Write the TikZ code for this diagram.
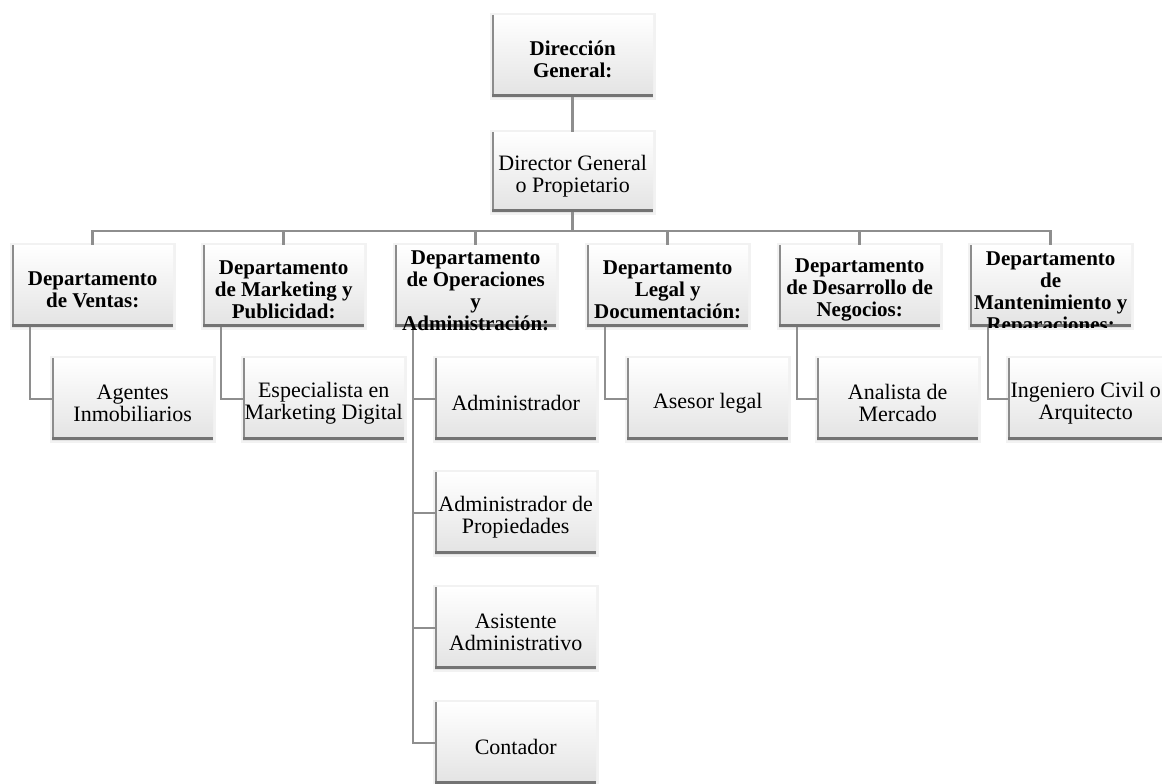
\documentclass[tikz,border=0pt]{standalone}
\usepackage{fontspec}
\setmainfont{Liberation Serif}
\usetikzlibrary{calc}
\definecolor{lin}{HTML}{8E8E8E}
\tikzset{
  box/.style={rectangle, anchor=north west, minimum width=161pt, minimum height=82pt,
    inner sep=0pt, top color=white, bottom color=black!11,
    preaction={draw=black!5, line width=5pt}},
  txt/.style={align=center, inner sep=0pt, font=\fontsize{22}{22}\selectfont},
  btxt/.style={align=center, inner sep=0pt, font=\fontsize{21}{22}\selectfont\bfseries},
  conn/.style={draw=lin, line width=2.5pt},
  edgeL/.style={draw=black!45, line width=2pt},
  edgeB/.style={draw=black!55, line width=3pt},
}
\newcommand{\boxedge}[1]{%
  \draw[edgeL] ($(#1.north west)+(1,0)$) -- ($(#1.south west)+(1,0)$);
  \draw[edgeB] ($(#1.south west)+(0,-1.5)$) -- ($(#1.south east)+(0,-1.5)$);}
\begin{document}
\begin{tikzpicture}[x=1pt,y=-1pt]
\useasboundingbox (0,0) rectangle (1162,784);
\fill[white] (0,0) rectangle (1162,784);
\clip (0,0) rectangle (1162,784);
\coordinate (bus) at (0,231);
\node[box] (dg) at (492,15) {};
\node[box, minimum height=80pt] (dir) at (492,132) {};
\node[box] (d1) at (12,245) {};
\node[box] (d2) at (203,245) {};
\node[box] (d3) at (395,245) {};
\node[box] (d4) at (587,245) {};
\node[box] (d5) at (779,245) {};
\node[box] (d6) at (970,245) {};
\node[box] (c1) at (52,358) {};
\node[box] (c2) at (243,358) {};
\node[box] (c3a) at (435,358) {};
\node[box] (c3b) at (435,472) {};
\node[box] (c3c) at (435,587) {};
\node[box] (c3d) at (435,702) {};
\node[box] (c4) at (627,358) {};
\node[box] (c5) at (817,358) {};
\node[box] (c6) at (1008,358) {};
\foreach \n in {dg,dir,d1,d2,d3,d4,d5,d6,c1,c2,c3a,c3b,c3c,c3d,c4,c5,c6}{\boxedge{\n}}
% connectors
\draw[conn] (dg.south) -- (dir.north);
\foreach \d in {d1,d2,d3,d4,d5,d6}{
  \draw[conn] (dir.south) -- (dir.south |- bus) -| (\d.north);}
\foreach \d/\c in {d1/c1,d2/c2,d4/c4,d5/c5,d6/c6,d3/c3a,d3/c3b,d3/c3c,d3/c3d}{
  \draw[conn] ($(\d.south west)+(18,0)$) |- (\c.west);}
% texts
\node[btxt] (tdg) at ($(dg.center)+(0,3)$) {Dirección\\General:};
\node[txt] (tdir) at ($(dir.center)+(0,4)$) {Director General\\o Propietario};
\node[btxt] (t1) at ($(d1.center)+(0,4)$) {Departamento\\de Ventas:};
\node[btxt] (t2) at ($(d2.center)+(0,4)$) {Departamento\\de Marketing y\\Publicidad:};
\node[btxt] (t3) at ($(d3.center)+(0,5)$) {Departamento\\de Operaciones\\y\\Administración:};
\node[btxt] (t4) at ($(d4.center)+(0,4)$) {Departamento\\Legal y\\Documentación:};
\node[btxt] (t5) at ($(d5.center)+(0,4)$) {Departamento\\de Desarrollo de\\Negocios:};
\begin{scope}
\clip (d6.north west) rectangle (d6.south east);
\node[btxt] (t6) at ($(d6.center)+(0,8)$) {Departamento\\de\\Mantenimiento y\\Reparaciones:};
\end{scope}
\node[txt] (tc1) at ($(c1.center)+(0,4)$) {Agentes\\Inmobiliarios};
\node[txt] (tc2) at ($(c2.center)+(0,4)$) {Especialista en\\Marketing Digital};
\node[txt] (tc3a) at ($(c3a.center)+(0,4)$) {Administrador};
\node[txt] (tc3b) at ($(c3b.center)+(0,4)$) {Administrador de\\Propiedades};
\node[txt] (tc3c) at ($(c3c.center)+(0,4)$) {Asistente\\Administrativo};
\node[txt] (tc3d) at ($(c3d.center)+(0,4)$) {Contador};
\node[txt] (tc4) at ($(c4.center)+(0,4)$) {Asesor legal};
\node[txt] (tc5) at ($(c5.center)+(0,4)$) {Analista de\\Mercado};
\node[txt] (tc6) at ($(c6.center)+(-3,4)$) {Ingeniero Civil o\\Arquitecto};
\end{tikzpicture}
\end{document}
